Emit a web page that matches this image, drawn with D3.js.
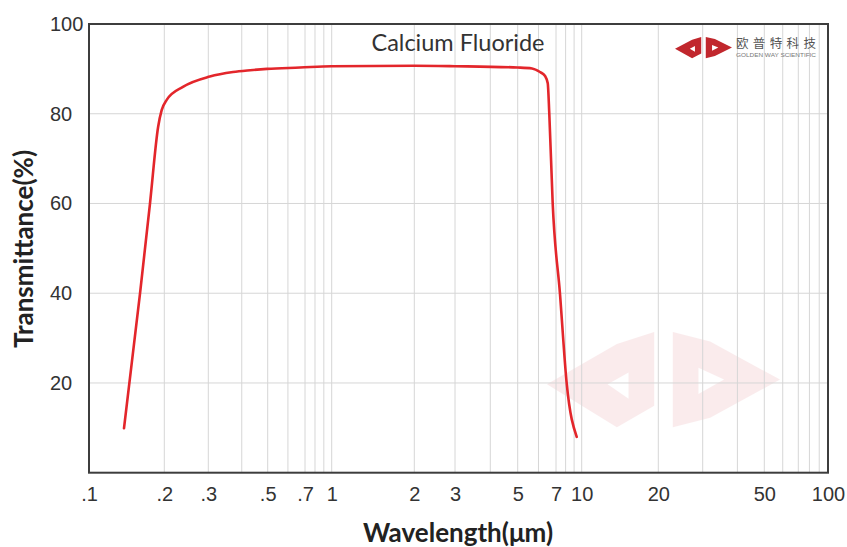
<!DOCTYPE html>
<html>
<head>
<meta charset="utf-8">
<script src="https://cdn.jsdelivr.net/npm/d3@7/dist/d3.min.js"></script>
<style>
  html, body { margin: 0; padding: 0; background: #ffffff; }
  svg { display: block; }
</style>
</head>
<body>
<svg id="chart" width="847" height="547"></svg>
<script>
// ---- data ----
const wavelength = [0.138, 0.160, 0.1754, 0.189, 0.1952, 0.2045, 0.2375, 0.304, 0.371, 0.43, 0.497, 0.669, 1.0, 2.0, 3.0, 5.0, 5.67, 6.08, 6.36, 6.51, 6.60, 6.80, 7.40, 8.12, 9.33];
const transmittance = [9.9, 40.0, 60.1, 77.1, 80.8, 83.1, 86.0, 88.3, 89.3, 89.7, 90.0, 90.3, 90.6, 90.7, 90.6, 90.3, 90.1, 89.3, 88.4, 86.8, 80.0, 60.0, 39.8, 19.9, 8.0];
const xTickValues = [0.1, 0.2, 0.3, 0.5, 0.7, 1, 2, 3, 5, 7, 10, 20, 50, 100];
const xTickLabels = [".1", ".2", ".3", ".5", ".7", "1", "2", "3", "5", "7", "10", "20", "50", "100"];
const yTickValues = [20, 40, 60, 80, 100];
const chartTitle = "Calcium Fluoride";
const xTitle = "Wavelength(\u03bcm)";
const yTitle = "Transmittance(%)";
const brandCN = "欧普特科技";
const brandEN = "GOLDEN WAY SCIENTIFIC";

// ---- layout ----
const svg = d3.select("#chart");
const L = 89, R = 828, T = 24, B = 472.7;

// the printed log axis is slightly uneven; follow its tick positions
const x = d3.scaleLog()
  .domain([0.1, 0.2, 0.3, 0.5, 0.7, 1, 2, 3, 5, 7, 10, 20, 30, 50, 70, 100])
  .range([L, 164.3, 208.3, 267.7, 305, 331.7, 414.3, 455, 517.7, 556, 581.7, 658.3, 702.7, 764.3, 798.3, R]);
const y = d3.scaleLinear().domain([0, 100]).range([B, T]);

// grid values: 1..9 × decades
const gridX = [];
[0.1, 1, 10].forEach(d => { for (let k = 1; k <= 9; k++) gridX.push(+(k * d).toPrecision(3)); });
gridX.push(100);

// stylised "JC" mark in a 100 x 40 box
function logoPath(g) {
  const left = "M0,22 L30,5 L46,0 L46,31 L30,40 Z M26,22 L35,17 L35,28 Z";
  const right = "M54,0 L70,4 L100,20 L70,36 L54,40 Z M65,15 L76,20 L65,26 Z";
  g.append("path").attr("d", left).attr("fill-rule", "evenodd");
  g.append("path").attr("d", right).attr("fill-rule", "evenodd");
}
// watermark (faint, behind)
const wm = svg.append("g")
  .attr("transform", "translate(547,332) scale(2.33,2.38)")
  .attr("fill", "#e8a0a6").attr("opacity", 0.2);
logoPath(wm);

// grid
svg.append("g").selectAll("line").data(gridX).join("line")
  .attr("x1", d => x(d)).attr("x2", d => x(d))
  .attr("y1", T).attr("y2", B)
  .attr("stroke", "#d6d6d6").attr("stroke-width", 1);
svg.append("g").selectAll("line").data([20, 40, 60, 80]).join("line")
  .attr("x1", L).attr("x2", R)
  .attr("y1", d => y(d)).attr("y2", d => y(d))
  .attr("stroke", "#d6d6d6").attr("stroke-width", 1);

// frame
svg.append("rect")
  .attr("x", L).attr("y", T).attr("width", R - L).attr("height", B - T)
  .attr("fill", "none").attr("stroke", "#3d3d3d").attr("stroke-width", 2);

// axes (labels only)
const xAxis = d3.axisBottom(x).tickValues(xTickValues)
  .tickFormat((d, i) => xTickLabels[i]).tickSize(0).tickPadding(14);
const gx = svg.append("g").attr("transform", `translate(0,${B})`).call(xAxis);
gx.select(".domain").remove();
gx.selectAll("text")
  .attr("font-family", "'Liberation Sans', Arial, sans-serif")
  .attr("font-size", 20).attr("fill", "#333");

const yAxis = d3.axisLeft(y).tickValues(yTickValues).tickSize(0).tickPadding(0);
const gy = svg.append("g").attr("transform", "translate(50,0)").call(yAxis);
gy.select(".domain").remove();
gy.selectAll("text")
  .attr("text-anchor", "start").attr("x", 0)
  .attr("font-family", "'Liberation Sans', Arial, sans-serif")
  .attr("font-size", 20).attr("fill", "#333");

// curve
const line = d3.line()
  .x((d, i) => x(wavelength[i]))
  .y((d, i) => y(transmittance[i]))
  .curve(d3.curveMonotoneX);
svg.append("path")
  .datum(transmittance)
  .attr("d", line)
  .attr("fill", "none")
  .attr("stroke", "#e3262b")
  .attr("stroke-width", 2.6)
  .attr("stroke-linejoin", "round")
  .attr("stroke-linecap", "round");

// titles
svg.append("text")
  .attr("x", 458).attr("y", 51)
  .attr("text-anchor", "middle")
  .attr("font-family", "Lato, 'Open Sans', sans-serif")
  .attr("font-size", 23.5).attr("fill", "#333")
  .text(chartTitle);

svg.append("text")
  .attr("x", 458).attr("y", 542)
  .attr("text-anchor", "middle")
  .attr("font-family", "Lato, 'Open Sans', sans-serif")
  .attr("font-weight", "bold")
  .attr("font-size", 26).attr("fill", "#222")
  .text(xTitle);

svg.append("text")
  .attr("transform", "translate(33,249) rotate(-90)")
  .attr("text-anchor", "middle")
  .attr("font-family", "Lato, 'Open Sans', sans-serif")
  .attr("font-weight", "bold")
  .attr("font-size", 26).attr("fill", "#222")
  .text(yTitle);

// brand logo
const lg = svg.append("g")
  .attr("transform", "translate(675,37) scale(0.57,0.53)")
  .attr("fill", "#c1272d");
logoPath(lg);
svg.append("text")
  .attr("x", 736).attr("y", 48)
  .attr("font-family", "'Noto Sans CJK SC', sans-serif")
  .attr("font-size", 12.5).attr("fill", "#555")
  .attr("textLength", 80).attr("lengthAdjust", "spacing")
  .text(brandCN);
svg.append("text")
  .attr("x", 736).attr("y", 57)
  .attr("font-family", "'Liberation Sans', Arial, sans-serif")
  .attr("font-size", 5).attr("fill", "#777")
  .attr("textLength", 80).attr("lengthAdjust", "spacingAndGlyphs")
  .text(brandEN);
</script>
</body>
</html>
